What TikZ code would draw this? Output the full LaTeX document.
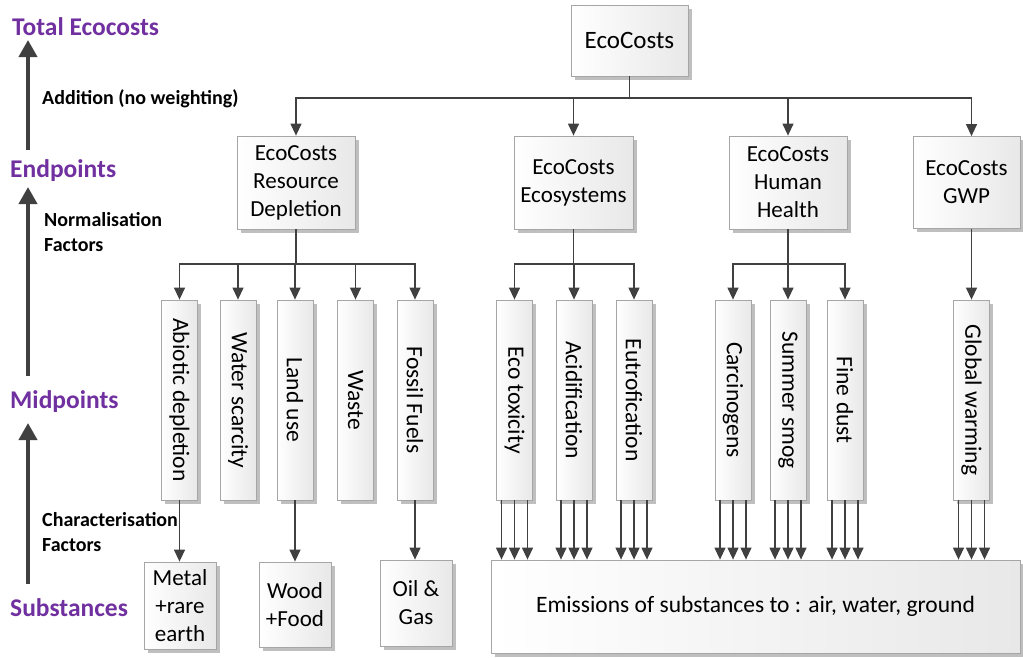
\documentclass[tikz,border=0pt]{standalone}
\usepackage{fontspec}
\setmainfont{Carlito}
\usetikzlibrary{arrows.meta,shadows,calc}
\definecolor{lineg}{HTML}{404040}
\definecolor{boxedge}{HTML}{A6A6A6}
\definecolor{purp}{HTML}{7030A0}
\tikzset{
  box/.style={draw=boxedge, line width=0.8pt, left color=white, right color=black!9,
    inner sep=0pt, align=center, font=\fontsize{23}{28}\selectfont,
    drop shadow={shadow xshift=3.5pt, shadow yshift=-3.5pt, fill=black!25, opacity=1}},
  vbox/.style={box, minimum width=36pt, minimum height=200pt, font=\fontsize{23.5}{26}\selectfont},
  arr/.style={draw=lineg, line width=1.3pt, -{Triangle[width=11pt,length=12pt]}},
  ln/.style={draw=lineg, line width=1.3pt},
  bigarr/.style={draw=lineg, line width=4pt, -{Triangle[width=18pt,length=17pt]}},
  level/.style={anchor=west, font=\fontsize{25.5}{28}\selectfont\bfseries, text=purp, inner sep=0pt},
  note/.style={anchor=west, font=\fontsize{20}{24.5}\selectfont\bfseries, inner sep=0pt, align=left}
}
\begin{document}
\begin{tikzpicture}[x=1pt,y=-1pt]
\useasboundingbox (0,0) rectangle (1023,657);
% top
\node[box, minimum width=117pt, minimum height=71pt, font=\fontsize{25}{28}\selectfont] (top) at (629.5,40.5) {EcoCosts};
% endpoints
\node[box, minimum width=118pt, minimum height=93pt] (rd) at (296,182.5) {EcoCosts\\Resource\\Depletion};
\node[box, minimum width=119pt, minimum height=93pt] (ecs) at (573.5,182.5) {EcoCosts\\Ecosystems};
\node[box, minimum width=118pt, minimum height=93pt] (hh) at (788,182.5) {EcoCosts\\Human\\Health};
\node[box, minimum width=107pt, minimum height=92pt] (gwp) at (966.5,182.5) {EcoCosts\\GWP};
% midpoints
\node[vbox] (abio) at (179.5,400) {\rotatebox{-90}{Abiotic depletion}};
\node[vbox] (water) at (238,400) {\rotatebox{-90}{Water scarcity}};
\node[vbox] (land) at (295,400) {\rotatebox{-90}{Land use}};
\node[vbox] (waste) at (355.5,400) {\rotatebox{-90}{Waste}};
\node[vbox] (fossil) at (415,400) {\rotatebox{-90}{Fossil Fuels}};
\node[vbox] (etox) at (514.5,400) {\rotatebox{-90}{Eco toxicity}};
\node[vbox] (acid) at (574,400) {\rotatebox{-90}{Acidification}};
\node[vbox] (eutro) at (634,400) {\rotatebox{-90}{Eutrofication}};
\node[vbox] (carc) at (733,400) {\rotatebox{-90}{Carcinogens}};
\node[vbox] (smog) at (788,400) {\rotatebox{-90}{Summer smog}};
\node[vbox] (dust) at (845,400) {\rotatebox{-90}{Fine dust}};
\node[vbox] (gw) at (971.5,400) {\rotatebox{-90}{Global warming}};
% substances
\node[box, minimum width=72pt, minimum height=87pt] (metal) at (180,605.5) {Metal\\+rare\\earth};
\node[box, minimum width=72pt, minimum height=85pt] (wood) at (295,604.5) {Wood\\+Food};
\node[box, minimum width=72pt, minimum height=86pt] (oil) at (416,603) {Oil \&\\Gas};
\node[box, minimum width=529pt, minimum height=93pt, font=\fontsize{23.5}{26}\selectfont] (em) at (755.5,606.5) {Emissions of substances to : air, water, ground};
% bus coordinates
\coordinate (bus1) at (629.5,98);
\coordinate (bus2) at (296,264);
\coordinate (bus3) at (573.5,264);
\coordinate (bus4) at (788,264);
% top to endpoints
\draw[ln] (top.south) -- (bus1);
\draw[arr] (bus1) -| (rd.north);
\draw[arr] (bus1) -| (ecs.north);
\draw[arr] (bus1) -| (hh.north);
\draw[arr] (bus1) -| (gwp.north -| gw.north);
% endpoints to midpoints
\draw[ln] (rd.south) -- (bus2);
\foreach \n in {abio,water,land,waste,fossil} \draw[arr] (bus2) -| (\n.north);
\draw[ln] (ecs.south) -- (bus3);
\foreach \n in {etox,acid,eutro} \draw[arr] (bus3) -| (\n.north);
\draw[ln] (hh.south) -- (bus4);
\foreach \n in {carc,smog,dust} \draw[arr] (bus4) -| (\n.north);
\draw[arr] (gwp.south -| gw.north) -- (gw.north);
% midpoints to substances
\draw[arr] (abio.south) -- (abio.south |- metal.north);
\draw[arr] (land.south) -- (land.south |- wood.north);
\draw[arr] (fossil.south) -- (fossil.south |- oil.north);
\foreach \n in {etox,acid,eutro,carc,smog,dust,gw}{
  \foreach \d in {-13,0,13}{
    \draw[arr] ([xshift=\d pt]\n.south) -- ([xshift=\d pt]\n.south |- em.north);
  }
}
% left scale
\node[level] (lt) at (12,27) {Total Ecocosts};
\node[level] (le) at (10,171) {Endpoints};
\node[level] (lm) at (10,402) {Midpoints};
\node[level] (ls) at (10,608) {Substances};
\coordinate (a1s) at (28,150);
\coordinate (a1e) at (28,40);
\coordinate (a2s) at (28,376);
\coordinate (a2e) at (28,187);
\coordinate (a3s) at (28,584);
\coordinate (a3e) at (28,423);
\draw[bigarr] (a1s) -- (a1e);
\draw[bigarr] (a2s) -- (a2e);
\draw[bigarr] (a3s) -- (a3e);
\node[note] (n1) at (42,99) {Addition (no weighting)};
\node[note] (n2) at (44,232) {Normalisation\\Factors};
\node[note] (n3) at (42,532) {Characterisation\\Factors};
\end{tikzpicture}
\end{document}
